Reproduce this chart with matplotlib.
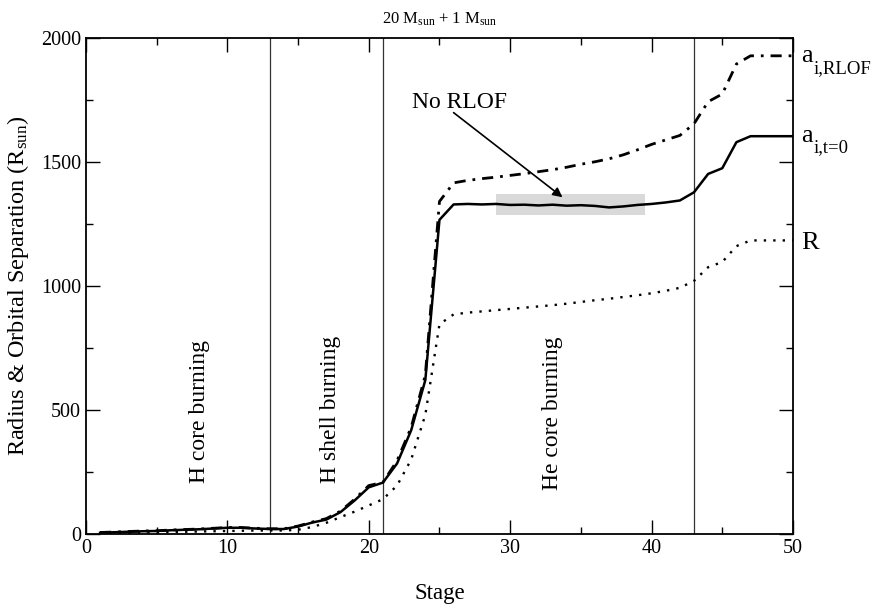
import numpy as np
import matplotlib
matplotlib.use("Agg")
import matplotlib.pyplot as plt
from matplotlib.ticker import MultipleLocator

plt.rcParams['font.family'] = ['Liberation Serif', 'DejaVu Serif']
plt.rcParams['mathtext.fontset'] = 'custom'
plt.rcParams['mathtext.rm'] = 'Liberation Serif'
plt.rcParams['mathtext.it'] = 'Liberation Serif:italic'

# Evolution stages of the 20 Msun primary
stage = np.arange(1, 51)

# initial separation (t=0) that just avoids RLOF
a_t0 = [5, 7, 9, 11, 12, 15, 17, 19, 22, 25,
        25, 22, 20, 20, 30, 46, 58, 88, 135, 188,
        207, 284, 418, 620, 1266, 1328, 1330, 1328, 1330, 1326,
        1327, 1324, 1327, 1323, 1325, 1322, 1316, 1320, 1326, 1330,
        1336, 1344, 1377, 1451, 1474, 1579, 1603, 1603, 1603, 1603]

# separation at onset of RLOF
a_rlof = [6, 8, 10, 12, 13, 16, 18, 20, 23, 26,
          26, 23, 21, 21, 32, 48, 62, 92, 140, 195,
          208, 295, 430, 640, 1340, 1415, 1425, 1432, 1438, 1445,
          1452, 1460, 1468, 1478, 1490, 1500, 1512, 1528, 1548, 1570,
          1588, 1606, 1653, 1742, 1773, 1894, 1927, 1927, 1927, 1927]

# stellar radius
radius = [3, 4, 5, 6, 7, 8, 9, 10, 11, 12,
          13, 14, 14, 14, 17, 28, 45, 68, 90, 115,
          140, 195, 300, 480, 845, 885, 892, 897, 902, 907,
          912, 917, 922, 928, 935, 942, 948, 955, 962, 970,
          980, 992, 1020, 1075, 1096, 1160, 1183, 1183, 1183, 1183]

# phase boundaries
phase_edges = [13, 21, 43]
phase_names = ["H core burning", "H shell burning", "He core burning"]
phase_x = [8.05, 17.3, 33.0]
phase_y = [205, 205, 177]

# "No RLOF" region
norlof_x = [29.0, 39.5]
norlof_y = [1287, 1371]

# right hand curve labels (main letter, subscript)
curve_labels = [("a", "i,RLOF"), ("a", "i,t=0"), ("R", "")]
curve_ends = [a_rlof[-1], a_t0[-1], radius[-1]]
label_drop = [26, 24, 36]

fig = plt.figure(figsize=(8.77, 6.07), dpi=100)
ax = fig.add_axes([0.098, 0.1203, 0.8062, 0.8176])

ax.fill_between(norlof_x, norlof_y[0], norlof_y[1], color='#d9d9d9', lw=0, zorder=1)

for xe in phase_edges:
    ax.axvline(xe, color='#333333', lw=0.9, zorder=2)

ax.plot(stage, radius, color='black', lw=1.7, linestyle=(0, (1, 3)), zorder=3)
ax.plot(stage, a_rlof, color='black', lw=2.0, linestyle=(0, (4, 2.5, 1, 2.5)), zorder=3)
ax.plot(stage, a_t0, color='black', lw=1.8, zorder=4)

for name, xx, yy in zip(phase_names, phase_x, phase_y):
    ax.text(xx, yy, name, rotation=90, ha='center', va='bottom', fontsize=17)

ax.text(26.45, 1737, "No RLOF", ha='center', va='center', fontsize=17)
ax.annotate("", xy=(33.7, 1357), xytext=(26.0, 1698),
            arrowprops=dict(arrowstyle='-|>', color='black', lw=1.2,
                            mutation_scale=14, shrinkA=0, shrinkB=0))

# curve labels at right of the frame, subscripts set by hand (dropped low)
for (main, sub), yend, drop in zip(curve_labels, curve_ends, label_drop):
    ax.text(50.6, yend - drop, main, fontsize=19, va='baseline', ha='left', clip_on=False)
    if sub:
        ax.annotate(sub, xy=(50.6, yend - drop), xytext=(8.6, -7.5),
                    textcoords='offset points', fontsize=13.5,
                    va='baseline', ha='left', annotation_clip=False)

ax.set_xlim(0, 50)
ax.set_ylim(0, 2000)
ax.xaxis.set_major_locator(MultipleLocator(10))
ax.xaxis.set_minor_locator(MultipleLocator(5))
ax.yaxis.set_major_locator(MultipleLocator(500))
ax.yaxis.set_minor_locator(MultipleLocator(250))
ax.tick_params(which='both', direction='in', top=True, right=True, labelsize=14.5)
ax.tick_params(which='major', length=10, width=1)
ax.tick_params(which='minor', length=5, width=1)
for sp in ax.spines.values():
    sp.set_linewidth(1.3)

ax.set_xlabel("Stage", fontsize=16.5, labelpad=18)
ax.set_ylabel(r"Radius & Orbital Separation (R$_{\rm sun}$)", fontsize=17.5, labelpad=7)
ax.set_title(r"20 M$_{\rm sun}$ + 1 M$_{\rm sun}$", fontsize=12, pad=10)

fig.savefig("out.png", dpi=100)
